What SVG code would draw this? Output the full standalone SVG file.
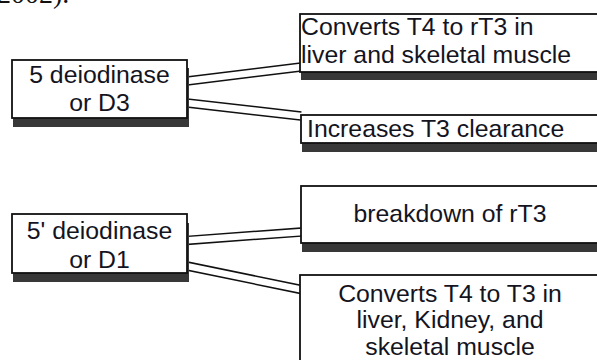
<svg xmlns="http://www.w3.org/2000/svg" width="597" height="360" viewBox="0 0 597 360">
  <style>
    .box { fill: #ffffff; stroke: #111111; stroke-width: 1.8; }
    .shadow { fill: #383838; }
    .t { font-family: "Liberation Sans", Arial, sans-serif; font-size: 24.8px; fill: #14141e; }
    .c { text-anchor: middle; }
    .outer { stroke: #111111; stroke-width: 9.5; fill: none; }
    .inner { stroke: #ffffff; stroke-width: 6.5; fill: none; }
  </style>
  <defs>
    <filter id="blur" x="-5%" y="-20%" width="110%" height="140%">
      <feGaussianBlur stdDeviation="0.7"/>
    </filter>
  </defs>
  <rect width="597" height="360" fill="#ffffff"/>
  <text x="-3" y="3" font-family="Liberation Serif, serif" font-size="28" fill="#111">2002).</text>

  <g id="connectors">
    <line class="outer" x1="187" y1="81" x2="301" y2="67"/>
    <line class="inner" x1="185" y1="81.2" x2="303" y2="66.8"/>
    <line class="outer" x1="187" y1="103" x2="301" y2="116"/>
    <line class="inner" x1="185" y1="102.8" x2="303" y2="116.2"/>
    <line class="outer" x1="187" y1="240.5" x2="301" y2="232"/>
    <line class="inner" x1="185" y1="240.6" x2="303" y2="231.9"/>
    <line class="outer" x1="187" y1="266" x2="301" y2="289.5"/>
    <line class="inner" x1="185" y1="265.6" x2="303" y2="289.9"/>
  </g>

  <g id="d3">
    <rect class="shadow" x="13" y="68" width="176" height="59" filter="url(#blur)"/>
    <rect class="box" x="12" y="60" width="175" height="58"/>
    <text class="t c" x="99.5" y="83">5 deiodinase</text>
    <text class="t c" x="99.5" y="111">or D3</text>
  </g>

  <g id="converts-rt3">
    <rect class="shadow" x="301" y="22" width="310" height="58" filter="url(#blur)"/>
    <rect class="box" x="300" y="14" width="310" height="58"/>
    <text class="t" x="301" y="35">Converts T4 to rT3 in</text>
    <text class="t" x="301" y="63">liver and skeletal muscle</text>
  </g>

  <g id="clearance">
    <rect class="shadow" x="302" y="123" width="310" height="29" filter="url(#blur)"/>
    <rect class="box" x="301" y="115" width="310" height="28"/>
    <text class="t" x="307" y="137">Increases T3 clearance</text>
  </g>

  <g id="d1">
    <rect class="shadow" x="13" y="223" width="176" height="59" filter="url(#blur)"/>
    <rect class="box" x="12" y="214" width="175" height="59"/>
    <text class="t c" x="99.5" y="239">5' deiodinase</text>
    <text class="t c" x="99.5" y="268">or D1</text>
  </g>

  <g id="breakdown">
    <rect class="shadow" x="302" y="195" width="310" height="57" filter="url(#blur)"/>
    <rect class="box" x="301" y="186" width="299" height="57"/>
    <text class="t c" x="450" y="222">breakdown of rT3</text>
  </g>

  <g id="converts-t3">
    <rect class="box" x="300" y="275" width="300" height="100"/>
    <text class="t c" x="450" y="302">Converts T4 to T3 in</text>
    <text class="t c" x="450" y="328">liver, Kidney, and</text>
    <text class="t c" x="450" y="355">skeletal muscle</text>
  </g>
</svg>
